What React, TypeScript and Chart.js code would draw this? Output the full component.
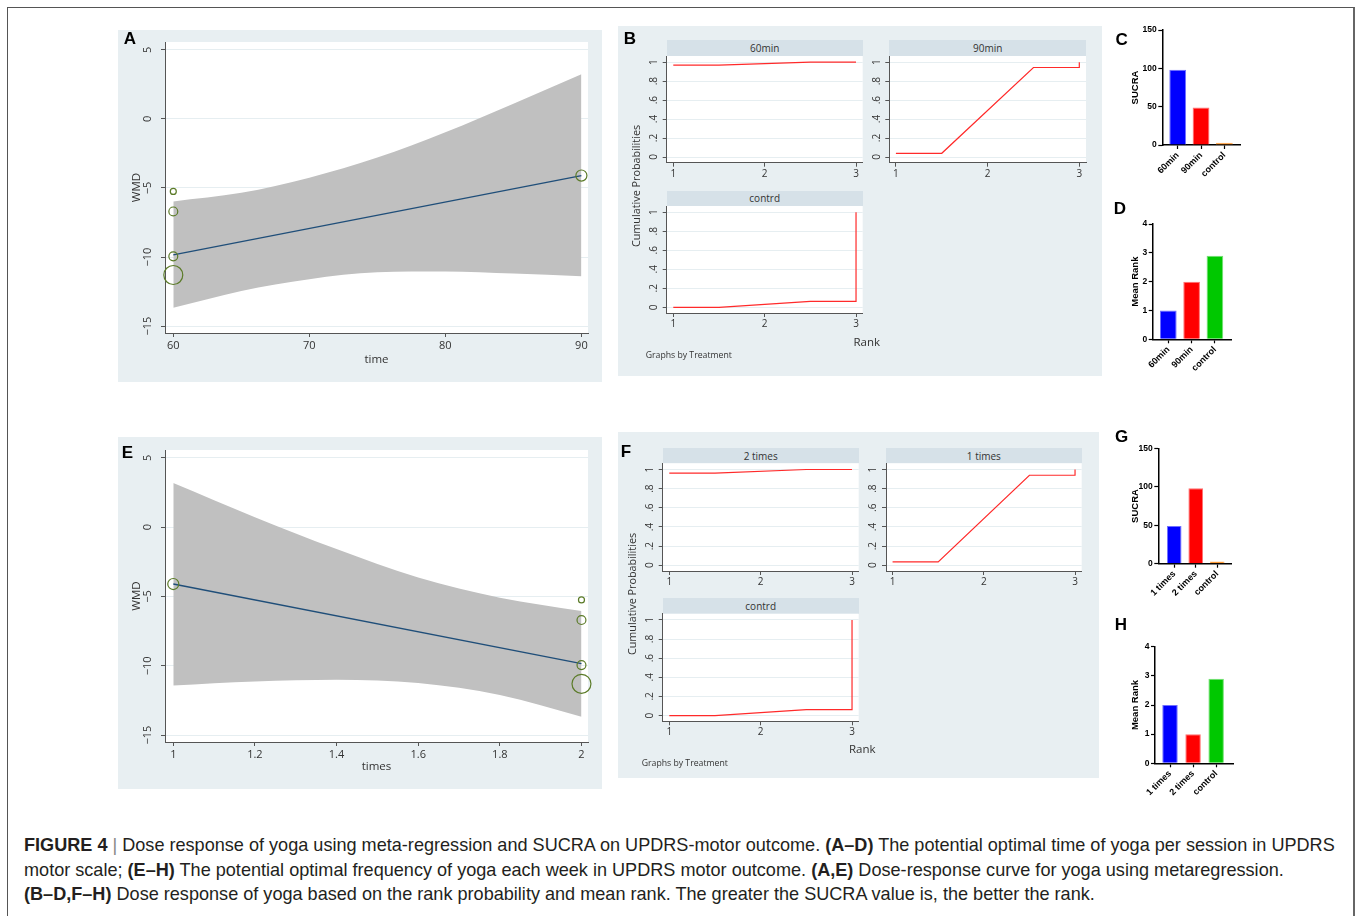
import React, { useEffect, useRef } from "react";
import { Chart, registerables } from "chart.js";
Chart.register(...registerables);

// ---------------- DATA ----------------
// Panel A: meta-regression of WMD on time per session
const timeStudyX = [60, 60, 60, 60, 90];
const timeStudyWMD = [-5.25, -6.7, -9.95, -11.3, -4.1];
const timeStudyWeight = [1, 2.2, 2.2, 10, 3.4];
const timeFitX = [60, 90];
const timeFitWMD = [-9.85, -4.1];
const timeCIX = [60, 65, 70, 75, 80, 85, 90];
const timeCIUpper = [-5.97, -5.35, -4.25, -2.8, -0.97, 1.1, 3.24];
const timeCILower = [-13.68, -12.45, -11.6, -11.1, -11.05, -11.2, -11.39];
const timeTicks = [60, 70, 80, 90];
const timeTickLabels = ["60", "70", "80", "90"];

// Panel E: meta-regression of WMD on weekly frequency
const freqStudyX = [1, 2, 2, 2, 2];
const freqStudyWMD = [-4.1, -5.25, -6.7, -9.95, -11.3];
const freqStudyWeight = [3.4, 1, 2.2, 2.2, 10];
const freqFitX = [1, 2];
const freqFitWMD = [-4.1, -9.85];
const freqCIX = [1, 1.2, 1.4, 1.6, 1.8, 2];
const freqCIUpper = [3.19, 0.72, -1.58, -3.63, -5.09, -6.05];
const freqCILower = [-11.42, -11.13, -11.0, -11.25, -12.1, -13.67];
const freqTicks = [1, 1.2, 1.4, 1.6, 1.8, 2];
const freqTickLabels = ["1", "1.2", "1.4", "1.6", "1.8", "2"];

const wmdTicks = [5, 0, -5, -10, -15];
const wmdTickLabels = ["5", "0", "\u22125", "\u221210", "\u221215"];

// Panels B and F: cumulative rank probabilities
const rankSteps = [1, 1.5, 2.5, 3, 3];
const cum60min = [0.968, 0.968, 1, 1, 1];
const cum90min = [0.039, 0.039, 0.944, 0.944, 1];
const cumContrdB = [0, 0, 0.063, 0.063, 1];
const cum2times = [0.962, 0.962, 1, 1, 1];
const cum1times = [0.035, 0.035, 0.94, 0.94, 1];
const cumContrdF = [0, 0, 0.062, 0.062, 1];
const rankTicks = [1, 2, 3];
const rankTickLabels = ["1", "2", "3"];
const probTicks = [0, 0.2, 0.4, 0.6, 0.8, 1];
const probTickLabels = ["0", ".2", ".4", ".6", ".8", "1"];

// Panels C, D, G, H
const timeGroups = ["60min", "90min", "control"];
const timeSUCRA = [98, 49, 3];
const timeMeanRank = [1, 2, 2.9];
const freqGroups = ["1 times", "2 times", "control"];
const freqSUCRA = [49, 98, 3];
const freqMeanRank = [2, 1, 2.9];
const sucraTicks = [0, 50, 100, 150];
const meanRankTicks = [0, 1, 2, 3, 4];

// ---------------- HELPERS ----------------
type Box = { l: number; t: number; w: number; h: number };
type Area = { l: number; t: number; r: number; b: number };

const STATA_FONT = "'Open Sans', 'DejaVu Sans', sans-serif";
const PRISM_FONT = "'Liberation Sans', Arial, sans-serif";
const PANEL_BG = "#e8eff2";
const HEADER_BG = "#d6e1e8";

function frameOf(box: Box, area: Area) {
  return {
    padding: { left: 0, top: area.t - box.t, right: box.l + box.w - area.r, bottom: 0 },
    yWidth: area.l - box.l,
    xHeight: box.t + box.h - area.b,
  };
}

function plotBg(color: string) {
  return {
    id: "plotBg",
    beforeDraw(chart: any) {
      const a = chart.chartArea;
      const ctx = chart.ctx;
      ctx.save();
      ctx.fillStyle = color;
      ctx.fillRect(a.left, a.top, a.right - a.left, a.bottom - a.top);
      ctx.restore();
    },
  };
}

function rotatedYLabels(values: number[], labels: string[], offset: number, font: string, color: string) {
  return {
    id: "rotY",
    afterDraw(chart: any) {
      const s = chart.scales.y;
      const ctx = chart.ctx;
      ctx.save();
      ctx.font = font;
      ctx.fillStyle = color;
      ctx.textAlign = "center";
      ctx.textBaseline = "middle";
      values.forEach((v, i) => {
        const y = s.getPixelForValue(v);
        ctx.save();
        ctx.translate(s.right - offset, y);
        ctx.rotate(-Math.PI / 2);
        ctx.fillText(labels[i], 0, 0);
        ctx.restore();
      });
      ctx.restore();
    },
  };
}

const pts = (xs: number[], ys: number[]) => xs.map((x, i) => ({ x, y: ys[i] }));

function ChartCanvas({ box, make }: { box: Box; make: () => any }) {
  const ref = useRef<HTMLCanvasElement | null>(null);
  useEffect(() => {
    const chart = new Chart(ref.current as HTMLCanvasElement, make());
    return () => chart.destroy();
  }, []);
  return (
    <canvas
      ref={ref}
      width={box.w}
      height={box.h}
      style={{ position: "absolute", left: box.l, top: box.t, width: box.w, height: box.h }}
    />
  );
}

const baseOptions = (f: any) => ({
  animation: false,
  responsive: false,
  devicePixelRatio: 1,
  events: [],
  layout: { padding: f.padding, autoPadding: false },
  plugins: {
    legend: { display: false },
    tooltip: { enabled: false },
    filler: { drawTime: "beforeDatasetsDraw" },
  },
});

// Stata meta-regression bubble plot (A, E)
function regressionConfig(p: {
  box: Box; area: Area; xMin: number; xMax: number; xTicks: number[]; xLabels: string[]; xTitle: string;
  sx: number[]; sy: number[]; sw: number[]; fx: number[]; fy: number[]; cx: number[]; cu: number[]; cl: number[];
  yTitleX: number; xTitleY: number;
}) {
  const f = frameOf(p.box, p.area);
  const tSize = 11.5;
  const lh = tSize * 1.2;
  return {
    type: "line",
    data: {
      datasets: [
        {
          data: pts(p.sx, p.sy), showLine: false,
          pointRadius: p.sw.map((w) => 3 * Math.sqrt(w)),
          pointBackgroundColor: "rgba(0,0,0,0)", pointBorderColor: "#5b7b28", pointBorderWidth: 1.2, clip: false,
        },
        { data: pts(p.fx, p.fy), borderColor: "#1f4e79", borderWidth: 1.3, pointRadius: 0 },
        {
          data: pts(p.cx, p.cu), borderColor: "rgba(0,0,0,0)", borderWidth: 0, pointRadius: 0,
          fill: "+1", backgroundColor: "#c0c0c0", cubicInterpolationMode: "monotone",
        },
        {
          data: pts(p.cx, p.cl), borderColor: "rgba(0,0,0,0)", borderWidth: 0, pointRadius: 0,
          fill: false, cubicInterpolationMode: "monotone",
        },
      ],
    },
    options: {
      ...baseOptions(f),
      scales: {
        x: {
          type: "linear", min: p.xMin, max: p.xMax,
          afterFit: (s: any) => { s.height = f.xHeight; s.paddingLeft = 0; s.paddingRight = 0; },
          afterBuildTicks: (s: any) => { s.ticks = p.xTicks.map((v) => ({ value: v })); },
          ticks: {
            callback: (_v: any, i: number) => p.xLabels[i], autoSkip: false, maxRotation: 0,
            font: { family: STATA_FONT, size: 11 }, color: "#333", padding: 2,
          },
          grid: { drawOnChartArea: false, tickLength: 4, tickColor: "#555" },
          border: { color: "#555", width: 1 },
          title: {
            display: true, text: p.xTitle, color: "#333", font: { family: STATA_FONT, size: tSize },
            padding: { top: 0, bottom: p.box.t + p.box.h - p.xTitleY - lh / 2 },
          },
        },
        y: {
          type: "linear", min: -15.5, max: 5.57,
          afterFit: (s: any) => { s.width = f.yWidth; s.paddingTop = 0; s.paddingBottom = 0; },
          afterBuildTicks: (s: any) => { s.ticks = wmdTicks.map((v) => ({ value: v })); },
          ticks: { display: false },
          grid: { color: "#e6eef1", tickColor: "#555", tickLength: 4 },
          border: { color: "#555", width: 1 },
          title: {
            display: true, text: "WMD", color: "#333", font: { family: STATA_FONT, size: tSize },
            padding: { top: p.yTitleX - p.box.l - lh / 2, bottom: 0 },
          },
        },
      },
    },
    plugins: [plotBg("#ffffff"), rotatedYLabels(wmdTicks, wmdTickLabels, 16.7, `11px ${STATA_FONT}`, "#333")],
  };
}

// Stata cumulative rank probability subplot (B, F)
function rankConfig(box: Box, area: Area, ys: number[]) {
  const f = frameOf(box, area);
  return {
    type: "line",
    data: {
      datasets: [
        { data: pts(rankSteps, ys), borderColor: "#ff2a2a", borderWidth: 1.2, pointRadius: 0, tension: 0, fill: false },
      ],
    },
    options: {
      ...baseOptions(f),
      scales: {
        x: {
          type: "linear", min: 0.928, max: 3.073,
          afterFit: (s: any) => { s.height = f.xHeight; s.paddingLeft = 0; s.paddingRight = 0; },
          afterBuildTicks: (s: any) => { s.ticks = rankTicks.map((v) => ({ value: v })); },
          ticks: {
            callback: (_v: any, i: number) => rankTickLabels[i], autoSkip: false, maxRotation: 0,
            font: { family: STATA_FONT, size: 10 }, color: "#333", padding: 1,
          },
          grid: { drawOnChartArea: false, tickLength: 4, tickColor: "#555" },
          border: { color: "#555", width: 1 },
        },
        y: {
          type: "linear", min: -0.06, max: 1.065,
          afterFit: (s: any) => { s.width = f.yWidth; s.paddingTop = 0; s.paddingBottom = 0; },
          afterBuildTicks: (s: any) => { s.ticks = probTicks.map((v) => ({ value: v })); },
          ticks: { display: false },
          grid: { color: "#e6eef1", tickColor: "#555", tickLength: 4 },
          border: { color: "#555", width: 1 },
        },
      },
    },
    plugins: [plotBg("#ffffff"), rotatedYLabels(probTicks, probTickLabels, 12.4, `10px ${STATA_FONT}`, "#333")],
  };
}

// Prism bar charts (C, D, G, H)
function barConfig(p: {
  box: Box; area: Area; xMin: number; xMax: number; barPct: number; cats: string[]; values: number[];
  colors: string[]; borders: string[]; yMax: number; yTicks: number[]; title: string; titleX: number;
}) {
  const f = frameOf(p.box, p.area);
  const tSize = 9.5;
  const lh = tSize * 1.2;
  return {
    type: "bar",
    data: {
      datasets: [
        {
          data: p.values.map((v, i) => ({ x: i, y: v })),
          backgroundColor: p.colors, borderColor: p.borders, borderWidth: 1,
          barPercentage: p.barPct, categoryPercentage: 1,
        },
      ],
    },
    options: {
      ...baseOptions(f),
      scales: {
        x: {
          type: "linear", min: p.xMin, max: p.xMax, offset: false,
          afterFit: (s: any) => { s.height = f.xHeight; s.paddingLeft = 0; s.paddingRight = 0; },
          afterBuildTicks: (s: any) => { s.ticks = p.cats.map((_c, i) => ({ value: i })); },
          ticks: {
            callback: (_v: any, i: number) => p.cats[i], autoSkip: false, minRotation: 45, maxRotation: 45,
            font: { family: PRISM_FONT, size: 9, weight: "bold" }, color: "#000", padding: 1,
          },
          grid: { drawOnChartArea: false, offset: false, tickLength: 4, tickColor: "#000", tickWidth: 1.2 },
          border: { color: "#000", width: 1.5 },
        },
        y: {
          type: "linear", min: 0, max: p.yMax,
          afterFit: (s: any) => { s.width = f.yWidth; s.paddingTop = 0; s.paddingBottom = 0; },
          afterBuildTicks: (s: any) => { s.ticks = p.yTicks.map((v) => ({ value: v })); },
          ticks: { font: { family: PRISM_FONT, size: 8.5, weight: "bold" }, color: "#000", padding: 1.5 },
          grid: { drawOnChartArea: false, tickLength: 4, tickColor: "#000", tickWidth: 1.2 },
          border: { color: "#000", width: 1.5 },
          title: {
            display: true, text: p.title, color: "#000", font: { family: PRISM_FONT, size: tSize, weight: "bold" },
            padding: { top: p.titleX - p.box.l - lh / 2, bottom: 0 },
          },
        },
      },
    },
  };
}

// ---------------- LAYOUT PIECES ----------------
function Rect({ l, t, w, h, color }: { l: number; t: number; w: number; h: number; color: string }) {
  return <div style={{ position: "absolute", left: l, top: t, width: w, height: h, background: color }} />;
}

function Text(props: {
  x: number; y: number; text: string; size: number; family?: string; weight?: string | number;
  color?: string; rotate?: number; anchor?: "center" | "left";
}) {
  const { x, y, text, size, family = STATA_FONT, weight = "normal", color = "#333", rotate = 0, anchor = "center" } = props;
  const tx = anchor === "center" ? "-50%" : "0";
  return (
    <div
      style={{
        position: "absolute", left: x, top: y, whiteSpace: "nowrap", fontFamily: family, fontSize: size,
        fontWeight: weight as any, color, lineHeight: 1,
        transform: `translate(${tx}, -50%) rotate(${rotate}deg)`, transformOrigin: anchor === "center" ? "50% 50%" : "0 50%",
      }}
    >
      {text}
    </div>
  );
}

function Header({ l, t, r, b, text }: { l: number; t: number; r: number; b: number; text: string }) {
  return (
    <div
      style={{
        position: "absolute", left: l, top: t, width: r - l, height: b - t, background: HEADER_BG,
        fontFamily: STATA_FONT, fontSize: 10, color: "#333", display: "flex", alignItems: "center", justifyContent: "center",
      }}
    >
      {text}
    </div>
  );
}

function Letter({ x, y, c }: { x: number; y: number; c: string }) {
  return <Text x={x} y={y} text={c} size={17} family={PRISM_FONT} weight="bold" color="#000" />;
}

const BLUE = "#0000ff", RED = "#ff0000", ORANGE = "#ff8000", GREEN = "#00c800";
const BLUE_B = "#7070ff", RED_B = "#ff7070", ORANGE_B = "#ffb060", GREEN_B = "#70e070";

export default function App() {
  const boxA = { l: 118, t: 30, w: 484, h: 352 };
  const boxE = { l: 118, t: 437, w: 484, h: 352 };

  const b60 = { box: { l: 636, t: 56, w: 232, h: 130 }, area: { l: 666.7, t: 56, r: 862.7, b: 162.7 } };
  const b90 = { box: { l: 860, t: 56, w: 232, h: 130 }, area: { l: 889.3, t: 56, r: 1086, b: 162.7 } };
  const bCt = { box: { l: 636, t: 206, w: 232, h: 130 }, area: { l: 666.7, t: 206, r: 862.7, b: 313 } };
  const f2 = { box: { l: 632, t: 463, w: 232, h: 130 }, area: { l: 662.7, t: 463.3, r: 858.7, b: 571 } };
  const f1 = { box: { l: 856, t: 463, w: 232, h: 130 }, area: { l: 886, t: 463.3, r: 1081.7, b: 571 } };
  const fCt = { box: { l: 632, t: 613, w: 232, h: 130 }, area: { l: 662.7, t: 613.7, r: 858.7, b: 721.3 } };

  const capStyle: React.CSSProperties = {
    position: "absolute", left: 24, whiteSpace: "nowrap", fontFamily: PRISM_FONT, fontSize: 18.1,
    color: "#231f20", lineHeight: "20px",
  };

  return (
    <div style={{ position: "absolute", left: 0, top: 0, width: 1357, height: 916, overflow: "hidden", background: "#fff" }}>
      <div style={{ position: "absolute", left: 7, top: 7, width: 1345, height: 1000, borderTop: "1px solid #555", borderLeft: "1px solid #555", borderRight: "2px solid #666" }} />

      {/* panel backgrounds */}
      <Rect l={118} t={30} w={484} h={352} color={PANEL_BG} />
      <Rect l={618} t={26} w={484} h={350} color={PANEL_BG} />
      <Rect l={118} t={437} w={484} h={352} color={PANEL_BG} />
      <Rect l={618} t={432} w={481} h={346} color={PANEL_BG} />

      {/* strip headers */}
      <Header l={666.7} t={40} r={862.7} b={56} text="60min" />
      <Header l={889.3} t={40} r={1086} b={56} text="90min" />
      <Header l={666.7} t={190.7} r={862.7} b={206} text="contrd" />
      <Header l={662.7} t={448.3} r={858.7} b={463.3} text="2 times" />
      <Header l={886} t={448.3} r={1081.7} b={463.3} text="1 times" />
      <Header l={662.7} t={598.3} r={858.7} b={613.7} text="contrd" />

      {/* A */}
      <ChartCanvas
        box={boxA}
        make={() =>
          regressionConfig({
            box: boxA, area: { l: 165, t: 42, r: 588, b: 333 }, xMin: 59.39, xMax: 90.485,
            xTicks: timeTicks, xLabels: timeTickLabels, xTitle: "time",
            sx: timeStudyX, sy: timeStudyWMD, sw: timeStudyWeight, fx: timeFitX, fy: timeFitWMD,
            cx: timeCIX, cu: timeCIUpper, cl: timeCILower, yTitleX: 136.7, xTitleY: 359.3,
          })
        }
      />
      {/* E */}
      <ChartCanvas
        box={boxE}
        make={() =>
          regressionConfig({
            box: boxE, area: { l: 165, t: 450, r: 588, b: 742 }, xMin: 0.9797, xMax: 2.016,
            xTicks: freqTicks, xLabels: freqTickLabels, xTitle: "times",
            sx: freqStudyX, sy: freqStudyWMD, sw: freqStudyWeight, fx: freqFitX, fy: freqFitWMD,
            cx: freqCIX, cu: freqCIUpper, cl: freqCILower, yTitleX: 136.7, xTitleY: 766.7,
          })
        }
      />

      {/* B */}
      <ChartCanvas box={b60.box} make={() => rankConfig(b60.box, b60.area, cum60min)} />
      <ChartCanvas box={b90.box} make={() => rankConfig(b90.box, b90.area, cum90min)} />
      <ChartCanvas box={bCt.box} make={() => rankConfig(bCt.box, bCt.area, cumContrdB)} />
      {/* F */}
      <ChartCanvas box={f2.box} make={() => rankConfig(f2.box, f2.area, cum2times)} />
      <ChartCanvas box={f1.box} make={() => rankConfig(f1.box, f1.area, cum1times)} />
      <ChartCanvas box={fCt.box} make={() => rankConfig(fCt.box, fCt.area, cumContrdF)} />

      <Text x={635.7} y={186} text="Cumulative Probabilities" size={10.8} rotate={-90} />
      <Text x={866.7} y={341.7} text="Rank" size={11.5} />
      <Text x={645.7} y={355} text="Graphs by Treatment" size={8.7} anchor="left" />
      <Text x={631.7} y={594} text="Cumulative Probabilities" size={10.8} rotate={-90} />
      <Text x={862.3} y={749.3} text="Rank" size={11.5} />
      <Text x={641.7} y={762.7} text="Graphs by Treatment" size={8.7} anchor="left" />

      {/* C */}
      <ChartCanvas
        box={{ l: 1118, t: 22, w: 130, h: 175 }}
        make={() =>
          barConfig({
            box: { l: 1118, t: 22, w: 130, h: 175 }, area: { l: 1162.3, t: 30, r: 1240, b: 145 },
            xMin: -0.66, xMax: 2.67, barPct: 0.72, cats: timeGroups, values: timeSUCRA,
            colors: [BLUE, RED, ORANGE], borders: [BLUE_B, RED_B, ORANGE_B], yMax: 150, yTicks: sucraTicks,
            title: "SUCRA", titleX: 1135,
          })
        }
      />
      {/* D */}
      <ChartCanvas
        box={{ l: 1118, t: 214, w: 130, h: 180 }}
        make={() =>
          barConfig({
            box: { l: 1118, t: 214, w: 130, h: 180 }, area: { l: 1152.7, t: 224, r: 1231, b: 339.3 },
            xMin: -0.67, xMax: 2.69, barPct: 0.715, cats: timeGroups, values: timeMeanRank,
            colors: [BLUE, RED, GREEN], borders: [BLUE_B, RED_B, GREEN_B], yMax: 4, yTicks: meanRankTicks,
            title: "Mean Rank", titleX: 1135,
          })
        }
      />
      {/* G */}
      <ChartCanvas
        box={{ l: 1118, t: 440, w: 130, h: 175 }}
        make={() =>
          barConfig({
            box: { l: 1118, t: 440, w: 130, h: 175 }, area: { l: 1158.3, t: 448.3, r: 1231, b: 563.7 },
            xMin: -0.74, xMax: 2.64, barPct: 0.68, cats: freqGroups, values: freqSUCRA,
            colors: [BLUE, RED, ORANGE], borders: [BLUE_B, RED_B, ORANGE_B], yMax: 150, yTicks: sucraTicks,
            title: "SUCRA", titleX: 1135,
          })
        }
      />
      {/* H */}
      <ChartCanvas
        box={{ l: 1118, t: 638, w: 130, h: 170 }}
        make={() =>
          barConfig({
            box: { l: 1118, t: 638, w: 130, h: 170 }, area: { l: 1155, t: 646.7, r: 1233, b: 763.3 },
            xMin: -0.65, xMax: 2.73, barPct: 0.67, cats: freqGroups, values: freqMeanRank,
            colors: [BLUE, RED, GREEN], borders: [BLUE_B, RED_B, GREEN_B], yMax: 4, yTicks: meanRankTicks,
            title: "Mean Rank", titleX: 1135,
          })
        }
      />

      {/* panel letters */}
      <Letter x={130} y={38.3} c="A" />
      <Letter x={630} y={37.7} c="B" />
      <Letter x={1121.7} y={39} c="C" />
      <Letter x={1120} y={208.3} c="D" />
      <Letter x={127.3} y={451.7} c="E" />
      <Letter x={626} y={450.7} c="F" />
      <Letter x={1121.7} y={435.7} c="G" />
      <Letter x={1121} y={624} c="H" />

      {/* caption */}
      <div style={{ ...capStyle, top: 835 }}>
        <b>FIGURE 4</b> <span style={{ color: "#888" }}>|</span> Dose response of yoga using meta-regression and SUCRA on UPDRS-motor outcome. <b>(A–D)</b> The potential optimal time of yoga per session in UPDRS
      </div>
      <div style={{ ...capStyle, top: 860 }}>
        motor scale; <b>(E–H)</b> The potential optimal frequency of yoga each week in UPDRS motor outcome. <b>(A,E)</b> Dose-response curve for yoga using metaregression.
      </div>
      <div style={{ ...capStyle, top: 884 }}>
        <b>(B–D,F–H)</b> Dose response of yoga based on the rank probability and mean rank. The greater the SUCRA value is, the better the rank.
      </div>
    </div>
  );
}
